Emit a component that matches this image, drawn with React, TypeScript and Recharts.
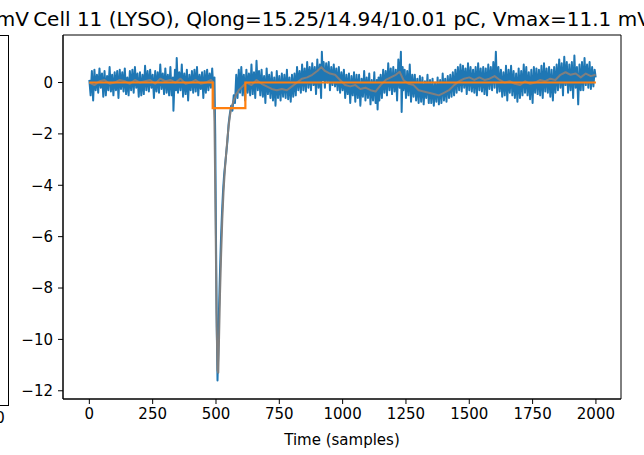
import { LineChart, Line, XAxis, YAxis, ReferenceArea } from 'recharts';

const xTicks = [0, 250, 500, 750, 1000, 1250, 1500, 1750, 2000];
const yTicks = [0, -2, -4, -6, -8, -10, -12];

// raw waveform in mV, [sample, value]
const rawTrace: [number, number][] = [
    [0, 0.1], [5, -0.5], [10, 0.45], [15, -0.7], [20, 0.5], [25, -0.3], [30, 0.3], [35, -0.4],
    [40, 0.55], [45, -0.2], [50, 0.35], [55, -0.55], [60, 0.45], [65, -0.5], [70, 0.25], [75, -0.3],
    [80, 0.6], [85, -0.35], [90, 0.3], [95, -0.5], [100, 0.4], [105, -0.3], [110, 0.45], [115, -0.6],
    [120, 0.5], [125, -0.25], [130, 0.4], [135, -0.35], [140, 0.55], [145, -0.45], [150, 0.2], [155, -0.5],
    [160, 0.45], [165, -0.3], [170, 0.5], [175, -0.4], [180, 0.6], [185, -0.2], [190, 0.35], [195, -0.55],
    [200, 0.4], [205, -0.5], [210, 0.3], [215, -0.45], [220, 0.65], [225, -0.3], [230, 0.45], [235, -0.35],
    [240, 0.5], [245, -0.2], [250, 0.3], [255, -0.6], [260, 0.45], [265, -0.35], [270, 0.4], [275, -0.4],
    [280, 0.7], [285, -0.25], [290, 0.35], [295, -0.45], [300, 0.55], [305, -0.4], [310, 0.3], [315, -0.5],
    [320, 0.6], [325, -0.5], [330, 0.2], [332, -1.1], [338, 0.5], [342, -0.3], [345, 0.95], [350, -0.4],
    [355, 0.4], [360, -0.3], [365, 0.7], [370, -0.55], [375, 0.35], [380, -0.45], [385, 0.5], [390, -0.7],
    [395, 0.3], [400, -0.3], [405, 0.45], [410, -0.4], [415, 0.5], [420, -0.35], [425, 0.6], [430, -0.5],
    [435, 0.3], [440, -0.25], [445, 0.4], [450, -0.6], [455, 0.45], [460, -0.4], [465, 0.5], [470, -0.3],
    [475, 0.35], [480, -0.2], [485, 0.55], [490, -0.3], [494, 0.2],
    [497, -2], [500, -6], [503, -9.5], [506, -11.6], [509, -10.5], [512, -8.8], [516, -7.3], [520, -6.0],
    [524, -5.0], [528, -4.2], [532, -3.6], [536, -3.2], [540, -2.8], [545, -2.3], [550, -1.6], [555, -1.2],
    [560, -0.9], [565, -1.1], [570, -0.5], [575, -0.8],
    [580, 0.3], [585, -0.6], [590, 0.5], [595, -0.4], [600, 0.6], [605, -0.5], [610, 0.3], [615, -0.7],
    [620, 0.5], [625, -0.4], [630, 0.35], [635, -0.5], [640, 0.7], [645, -0.45], [650, 0.4], [655, -0.6],
    [660, 0.85], [665, -0.3], [670, 0.45], [675, -0.5], [680, 0.5], [685, -0.55], [690, 0.25], [695, -0.8],
    [700, 0.55], [705, -0.45], [710, 0.3], [715, -0.6], [720, 0.4], [725, -0.7], [730, 0.2], [735, -0.9],
    [740, 0.45], [745, -0.6], [750, 0.25], [755, -0.7], [760, 0.35], [765, -0.55], [770, 0.3], [775, -0.6],
    [780, 0.5], [785, -0.65], [790, 0.2], [795, -0.75], [800, 0.3], [805, -0.55], [810, 0.35], [815, -0.5],
    [820, 0.6], [825, -0.3], [830, 0.45], [835, -0.4], [840, 0.7], [845, -0.3], [850, 0.55], [855, -0.35],
    [860, 0.8], [865, -0.2], [870, 0.6], [875, -0.3], [880, 0.75], [885, -0.1], [890, 0.6], [895, -0.45],
    [900, 0.9], [905, -0.2], [910, 0.7], [915, -0.6], [918, 1.2], [922, 0.1], [925, 0.8], [930, -0.2],
    [935, 0.75], [940, 0.0], [945, 0.8], [950, -0.3], [955, 0.6], [960, -0.1], [965, 0.7], [970, -0.15],
    [975, 0.55], [980, -0.3], [985, 0.6], [990, -0.4], [995, 0.4], [1000, -0.3], [1005, 0.5], [1010, -0.6],
    [1015, 0.3], [1020, -0.45], [1025, 0.35], [1030, -0.8], [1035, 0.25], [1040, -0.5], [1045, 0.4], [1050, -0.75],
    [1055, 0.3], [1060, -0.6], [1065, 0.3], [1070, -0.9], [1075, 0.15], [1080, -0.55], [1085, 0.45], [1090, -0.7],
    [1095, 0.2], [1100, -0.6], [1105, 0.35], [1110, -0.85], [1115, 0.1], [1120, -0.7], [1125, 0.4], [1130, -0.8],
    [1135, 0.1], [1138, -1.05], [1142, 0.2], [1145, -0.7], [1150, 0.3], [1155, -0.6], [1160, 0.5], [1165, -0.4], [1170, 0.45],
    [1175, -0.5], [1180, 0.75], [1185, -0.3], [1190, 0.55], [1195, -0.45], [1200, 0.6], [1205, -0.35], [1210, 0.5],
    [1215, -0.7], [1220, 0.9], [1225, -0.2], [1230, 1.2], [1233, -1.15], [1237, 0.6], [1240, -0.3], [1245, 0.5],
    [1250, -0.6], [1255, 0.45], [1260, -0.5], [1265, 0.7], [1270, -0.75], [1275, 0.3], [1280, -0.55], [1285, 0.3],
    [1290, -0.7], [1295, 0.15], [1300, -0.8], [1305, 0.25], [1310, -0.75], [1315, 0.2], [1320, -0.85], [1325, 0.05],
    [1330, -0.6], [1335, 0.3], [1340, -0.8], [1345, 0.1], [1350, -0.8], [1355, 0.15], [1360, -0.9], [1365, 0.0],
    [1370, -0.75], [1375, 0.2], [1380, -0.85], [1385, 0.1], [1390, -0.8], [1395, 0.35], [1400, -0.7], [1405, 0.15],
    [1410, -0.75], [1415, 0.25], [1420, -0.6], [1425, 0.3], [1430, -0.55], [1435, 0.4], [1440, -0.5], [1445, 0.5],
    [1450, -0.4], [1455, 0.6], [1460, -0.3], [1465, 0.7], [1470, -0.35], [1475, 0.65], [1480, -0.2], [1485, 0.55],
    [1490, -0.45], [1495, 0.75], [1500, -0.3], [1505, 0.6], [1510, -0.35], [1515, 0.5], [1520, -0.4], [1525, 0.6],
    [1530, -0.5], [1535, 0.75], [1540, -0.3], [1545, 0.55], [1550, -0.35], [1555, 0.6], [1560, -0.45], [1565, 0.55],
    [1570, -0.5], [1575, 0.7], [1580, -0.25], [1585, 0.6], [1590, -0.3], [1595, 0.8], [1600, -0.2], [1605, 1.2],
    [1610, -0.4], [1615, 0.6], [1620, -0.35], [1625, 0.5], [1630, -0.55], [1635, 0.4], [1640, -0.5], [1645, 0.65],
    [1650, -0.7], [1655, 0.5], [1660, -0.4], [1665, 0.65], [1670, -0.5], [1675, 0.45], [1680, -0.6], [1685, 0.35],
    [1690, -0.75], [1695, 0.55], [1700, -0.6], [1705, 0.45], [1710, -0.5], [1715, 0.7], [1720, -0.4], [1725, 0.6],
    [1730, -0.5], [1735, 0.4], [1740, -0.65], [1745, 0.5], [1750, -0.8], [1755, 0.6], [1760, -0.4], [1765, 0.55],
    [1770, -0.45], [1775, 0.5], [1780, -0.5], [1785, 0.65], [1790, -0.6], [1795, 0.75], [1800, -0.35], [1805, 0.55],
    [1810, -0.4], [1815, 0.6], [1820, -0.55], [1825, 0.5], [1830, -0.7], [1835, 0.6], [1840, -0.4], [1845, 0.7],
    [1850, -0.3], [1855, 0.9], [1860, -0.2], [1865, 0.75], [1870, -0.5], [1875, 1.0], [1880, -0.1], [1885, 0.8],
    [1890, -0.4], [1895, 0.7], [1900, -0.3], [1905, 0.8], [1910, -0.6], [1915, 1.05], [1920, -0.2], [1925, 0.6],
    [1930, -0.85], [1935, 0.7], [1940, -0.3], [1945, 0.8], [1950, -0.3], [1955, 0.95], [1960, -0.1], [1965, 0.7],
    [1970, -0.2], [1975, 0.8], [1980, -0.25], [1985, 0.6], [1990, -0.15], [1995, 0.5], [1999, 0.2],
];

// smoothed waveform
const filteredTrace: [number, number][] = [
    [0, 0.0], [20, -0.1], [40, 0.05], [60, 0.1], [80, -0.05], [100, 0.0], [120, 0.1], [140, 0.05],
    [160, -0.05], [180, 0.1], [200, 0.0], [220, 0.05], [240, 0.1], [260, -0.05], [280, 0.15], [300, 0.05],
    [320, 0.1], [340, 0.0], [360, 0.15], [380, -0.05], [400, 0.0], [420, 0.1], [440, -0.05], [460, 0.0],
    [480, 0.1], [490, 0.0], [494, -1.5], [498, -5], [502, -9], [506, -11.2], [509, -11.3], [512, -10],
    [516, -8.2], [520, -6.8], [525, -5.3], [530, -4.2], [535, -3.4], [540, -2.8], [545, -2.2], [550, -1.7],
    [555, -1.3], [560, -1.0], [570, -0.7], [580, -0.45], [590, -0.3], [600, -0.2], [620, 0.0], [640, -0.1],
    [660, 0.1], [680, -0.05], [700, -0.15], [720, -0.25], [740, -0.3], [760, -0.25], [780, -0.3], [800, -0.15],
    [820, 0.0], [840, 0.15], [860, 0.2], [880, 0.3], [900, 0.45], [916, 0.6], [930, 0.45], [950, 0.35],
    [970, 0.3], [990, 0.1], [1010, -0.1], [1030, -0.15], [1050, -0.1], [1070, -0.25], [1090, -0.2], [1110, -0.3],
    [1130, -0.35], [1150, -0.1], [1170, 0.1], [1190, 0.2], [1210, 0.3], [1225, 0.42], [1240, 0.1], [1260, -0.05],
    [1280, -0.1], [1300, -0.3], [1320, -0.35], [1340, -0.4], [1360, -0.45], [1380, -0.5], [1400, -0.4], [1420, -0.3],
    [1440, -0.1], [1460, 0.05], [1480, 0.15], [1500, 0.2], [1520, 0.1], [1540, 0.2], [1560, 0.1], [1580, 0.15],
    [1600, 0.25], [1620, 0.1], [1640, 0.0], [1660, 0.05], [1680, -0.05], [1700, -0.1], [1720, 0.05], [1740, -0.05],
    [1760, 0.0], [1780, 0.1], [1800, 0.05], [1820, 0.15], [1840, 0.1], [1860, 0.3], [1880, 0.4], [1900, 0.3],
    [1920, 0.35], [1940, 0.2], [1960, 0.35], [1980, 0.25], [1999, 0.3],
];

// integration gate
const gateWindow: [number, number][] = [
    [0, 0], [487, 0], [487, -1], [616, -1], [616, 0], [2000, 0],
];

const toRows = (pts: [number, number][]) => pts.map(([t, v]) => ({ t, v }));

const FONT = '"DejaVu Sans", sans-serif';
const tickStyle = { fontSize: 15, fill: '#000', fontFamily: FONT };

export default function App() {
    return (
        <div style={{ position: 'absolute', left: 0, top: 0, width: 644, height: 455, overflow: 'hidden', background: '#fff', fontFamily: FONT, color: '#000' }}>
            {/* neighbouring subplot, cut off at the left */}
            <div style={{ position: 'absolute', left: -20, top: 35, width: 27, height: 369, border: '1px solid #000' }} />
            <div style={{ position: 'absolute', right: 615, top: 9, fontSize: 20, lineHeight: '20px', whiteSpace: 'nowrap' }}>mV</div>
            <div style={{ position: 'absolute', left: -20, width: 40, top: 409, fontSize: 15, textAlign: 'center' }}>0</div>

            <div style={{ position: 'absolute', left: 342 - 400, width: 800, top: 9, fontSize: 20, lineHeight: '20px', textAlign: 'center', whiteSpace: 'nowrap' }}>
                Cell 11 (LYSO), Qlong=15.25/14.94/10.01 pC, Vmax=11.1 mV
            </div>

            <LineChart width={644} height={455} margin={{ top: 35, right: 23, left: 0, bottom: 0 }}>
                <XAxis
                    dataKey="t"
                    type="number"
                    domain={[-104, 2099]}
                    ticks={xTicks}
                    allowDataOverflow
                    height={56}
                    tick={tickStyle}
                    tickSize={5}
                    tickMargin={4}
                    stroke="#000"
                    label={{ value: 'Time (samples)', position: 'insideBottom', offset: 10, style: { fontSize: 15, fill: '#000', fontFamily: FONT } }}
                />
                <YAxis
                    type="number"
                    domain={[-12.32, 1.85]}
                    ticks={yTicks}
                    allowDataOverflow
                    width={63}
                    tick={tickStyle}
                    tickSize={5}
                    tickMargin={5}
                    stroke="#000"
                    tickFormatter={(v: number) => String(v).replace('-', '\u2212')}
                />
                <Line data={toRows(rawTrace)} dataKey="v" stroke="#1f77b4" strokeWidth={2} dot={false} strokeLinejoin="round" isAnimationActive={false} />
                <Line data={toRows(filteredTrace)} dataKey="v" stroke="#7f7f7f" strokeWidth={2} dot={false} strokeLinejoin="round" isAnimationActive={false} />
                <Line data={toRows(gateWindow)} dataKey="v" stroke="#ff7f0e" strokeWidth={2.2} dot={false} isAnimationActive={false} />
                <ReferenceArea x1={-104} x2={2099} y1={-12.32} y2={1.85} fill="none" fillOpacity={0} stroke="#000" strokeWidth={1} />
            </LineChart>
        </div>
    );
}
